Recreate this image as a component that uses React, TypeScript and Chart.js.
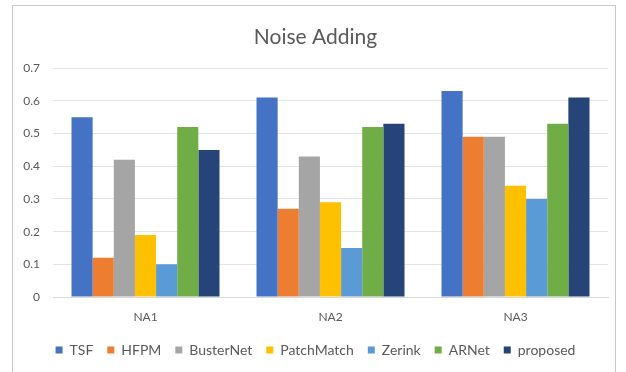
import React, { useEffect, useRef } from "react";
import { Chart, registerables } from "chart.js";

Chart.register(...registerables);

const categories = ["NA1", "NA2", "NA3"];
const seriesNames = ["TSF", "HFPM", "BusterNet", "PatchMatch", "Zerink", "ARNet", "proposed"];
const seriesColors = ["#4472C4", "#ED7D31", "#A5A5A5", "#FFC000", "#5B9BD5", "#70AD47", "#264478"];

const tsf = [0.55, 0.61, 0.63];
const hfpm = [0.12, 0.27, 0.49];
const busterNet = [0.42, 0.43, 0.49];
const patchMatch = [0.19, 0.29, 0.34];
const zerink = [0.1, 0.15, 0.3];
const arNet = [0.52, 0.52, 0.53];
const proposed = [0.45, 0.53, 0.61];

const seriesValues = [tsf, hfpm, busterNet, patchMatch, zerink, arNet, proposed];

const FONT = "Lato, 'Open Sans', sans-serif";

export default function App() {
  const canvasRef = useRef<HTMLCanvasElement | null>(null);

  useEffect(() => {
    if (!canvasRef.current) return;
    const chart = new Chart(canvasRef.current, {
      type: "bar",
      data: {
        labels: categories,
        datasets: seriesNames.map((name, i) => ({
          label: name,
          data: seriesValues[i],
          backgroundColor: seriesColors[i],
          borderWidth: 0,
          categoryPercentage: 0.8,
          barPercentage: 1.0,
        })),
      },
      options: {
        animation: false,
        responsive: true,
        maintainAspectRatio: false,
        layout: { padding: { left: 10, right: 7, top: 9, bottom: 9 } },
        plugins: {
          title: {
            display: true,
            text: "Noise Adding",
            color: "#595959",
            font: { family: FONT, size: 21, weight: "normal" },
            padding: { top: 10, bottom: 18 },
          },
          legend: {
            position: "bottom",
            labels: {
              boxWidth: 7,
              boxHeight: 7,
              color: "#595959",
              font: { family: FONT, size: 14 },
              padding: 14,
            },
          },
          tooltip: { enabled: false },
        },
        scales: {
          x: {
            grid: { display: false, drawTicks: false },
            border: { color: "#d9d9d9" },
            ticks: { color: "#595959", font: { family: FONT, size: 12 }, padding: 13 },
            afterFit: (scale: any) => {
              scale.height = 32;
            },
          },
          y: {
            min: 0,
            max: 0.7,
            ticks: {
              stepSize: 0.1,
              color: "#595959",
              font: { family: FONT, size: 12 },
              padding: 13,
            },
            grid: { color: "#e3e3e3", drawTicks: false },
            border: { display: false },
            afterFit: (scale: any) => {
              scale.width = 30;
            },
          },
        },
      },
    });
    return () => chart.destroy();
  }, []);

  return (
    <div
      style={{
        position: "absolute",
        left: 12,
        top: 5,
        width: 602,
        height: 370,
        border: "1px solid #c8c8c8",
        background: "#fff",
      }}
    >
      <canvas ref={canvasRef} />
    </div>
  );
}
